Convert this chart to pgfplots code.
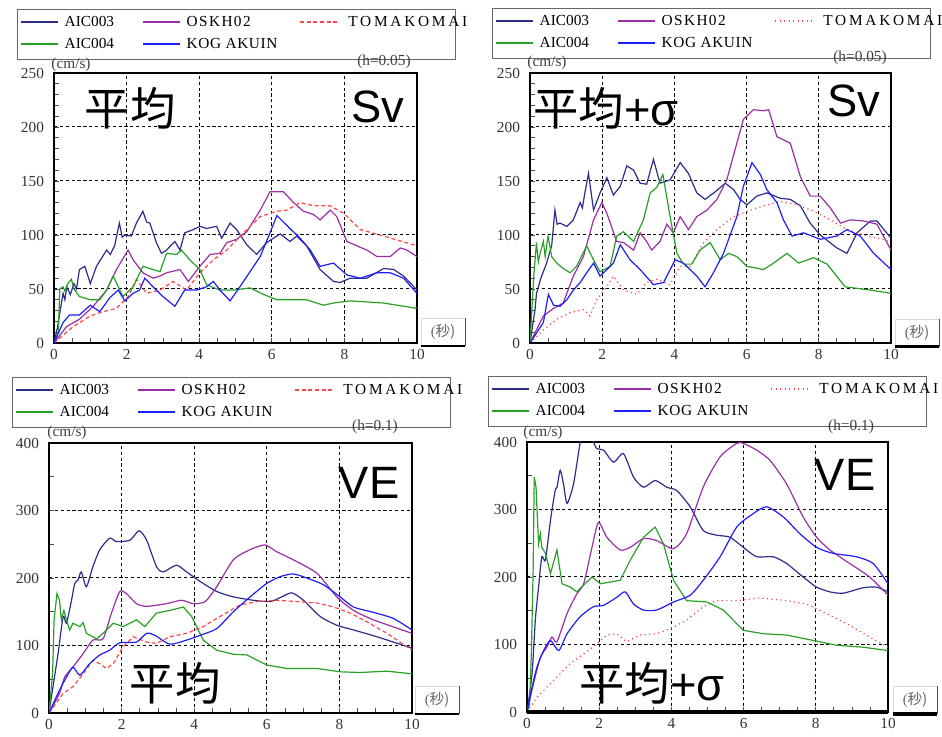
\documentclass[border=0pt]{standalone}
\usepackage{pgfplots}
\pgfplotsset{compat=1.18}
\usepackage{fontspec}
\setmainfont{Liberation Serif}
\newfontfamily\cjk{Noto Sans CJK JP}
\newfontfamily\sans{Liberation Sans}
\definecolor{cA}{RGB}{45,45,140}
\definecolor{cO}{RGB}{155,45,165}
\definecolor{cT}{RGB}{255,70,70}
\definecolor{cG}{RGB}{40,160,40}
\definecolor{cK}{RGB}{30,30,250}
\newcommand\WA{91.5pt}
\newcommand\WB{117.75pt}
\newcommand\WC{113pt}
% legend box text (sample lines are drawn separately)
\newcommand\legbox{%
  \begin{tabular}{@{}l@{}}
  \makebox[\WA][l]{\hspace{32.5pt}AIC003}%
  \makebox[\WB][l]{\hspace{32.5pt}{\addfontfeature{LetterSpace=9}OSKH02}}%
  \makebox[\WC][l]{\hspace{36pt}{\addfontfeature{LetterSpace=18}TOMAKOMAI}}\\[3.5pt]
  \makebox[\WA][l]{\hspace{32.5pt}AIC004}%
  \makebox[\WB][l]{\hspace{32.5pt}{\addfontfeature{LetterSpace=4}KOG AKUIN}}%
  \makebox[\WC][l]{}
  \end{tabular}}
% sample lines of a legend: #1 node name, #2 dash style of TOMAKOMAI
\newcommand\leglines[2]{%
  \begin{scope}[shift={(#1.north west)}]
  \draw[cA, line width=0.9pt] (4,-13) -- (41.3,-13);
  \draw[cO, line width=0.9pt] (126,-13) -- (163.3,-13);
  \draw[cT, line width=0.9pt, #2] (283,-13) -- (320.3,-13);
  \draw[cG, line width=0.9pt] (4,-35) -- (41.3,-35);
  \draw[cK, line width=0.9pt] (126,-35) -- (163.3,-35);
  \end{scope}}
\pgfplotsset{
  panel/.style={
    scale only axis, xmin=0, xmax=10, xtick={0,2,4,6,8,10}, minor x tick num=3,
    tick pos=left, tick align=inside, major tick length=4pt, minor tick length=4pt,
    grid=major, major grid style={black, line width=0.75pt, dash pattern=on 2.4pt off 2pt},
    axis line style={black, line width=1.1pt},
    every tick/.style={black!70, line width=0.6pt},
    ticklabel style={font=\fontsize{11.5}{12}\selectfont, text=black!80},
    /pgf/number format/assume math mode=true,
    yticklabel style={xshift=-4pt},
    xticklabel style={yshift=-1.5pt},
    no marks,
  },
  topp/.style={ymin=0, ymax=250, ytick={0,50,...,250}, minor y tick num=4},
  botp/.style={ymin=0, ymax=400, ytick={0,100,...,400}, minor y tick num=1},
  sA/.style={draw=cA, line width=0.9pt},
  sO/.style={draw=cO, line width=0.9pt},
  sG/.style={draw=cG, line width=0.9pt},
  sK/.style={draw=cK, line width=0.9pt},
  sTd/.style={draw=cT, line width=0.9pt, dash pattern=on 3pt off 2pt},
  sTo/.style={draw=cT, line width=0.9pt, dash pattern=on 0.9pt off 2.5pt},
}
\newcommand\secbox[3]{%
  \node[minimum width=33pt, minimum height=20pt, inner sep=0pt, draw=gray!30, line width=0.5pt,
        font=\fontsize{11}{12}\selectfont, text=black!60] (sb) at (#1,#2) {(\cjk 秒)};
  \draw[black, line width=#3] (sb.south west) -- (sb.south east);
  \draw[black!70, line width=0.8pt] (sb.south east) -- (sb.north east);
}
\begin{document}
\begin{tikzpicture}
\path[use as bounding box] (0,0) rectangle (706.5pt,552.75pt);

% ---------------- Panel 1 : Sv mean ----------------
\begin{axis}[panel, topp, name=p1, at={(40.5pt,295.5pt)}, anchor=south west, width=272.25pt, height=202.5pt]
\addplot[sA] coordinates {(0,0) (0.1,15) (0.16,28) (0.25,46) (0.3,40) (0.35,52) (0.45,45) (0.55,55) (0.62,50) (0.7,68) (0.85,71) (1.0,55) (1.17,71) (1.3,78) (1.45,86) (1.55,82) (1.67,90) (1.8,111) (1.88,98) (1.95,100) (2.13,99) (2.27,111) (2.45,122) (2.55,112) (2.64,111) (2.82,93) (2.96,83) (3.1,86) (3.33,94) (3.47,86) (3.6,102) (3.84,105) (4.02,108) (4.2,106) (4.48,108) (4.62,97) (4.85,111) (5.03,105) (5.31,91) (5.58,82) (5.86,93) (6.23,101) (6.5,94) (6.69,99) (6.96,90) (7.33,68) (7.7,57) (7.88,56) (8.16,60) (8.62,60) (9.08,69) (9.36,68) (9.63,62) (10,49)};
\addplot[sO] coordinates {(0,0) (0.34,15) (0.7,22) (1.08,34) (1.45,49) (1.72,68) (2.04,86) (2.18,77) (2.45,65) (2.73,60) (2.92,62) (3.1,65) (3.47,68) (3.7,57) (4.02,71) (4.3,82) (4.57,83) (4.76,93) (5.03,96) (5.31,103) (5.68,123) (5.95,140) (6.32,140) (6.6,130) (6.87,122) (7.15,119) (7.33,114) (7.61,123) (7.79,117) (8.07,94) (8.34,90) (8.62,86) (8.9,80) (9.26,80) (9.54,88) (9.72,86) (10,80)};
\addplot[sTd] coordinates {(0,0) (0.52,15) (1.0,25) (1.35,29) (1.72,32) (2.04,43) (2.27,59) (2.55,46) (2.92,49) (3.28,57) (3.65,49) (4.02,65) (4.39,77) (4.76,86) (5.22,102) (5.68,117) (6.14,122) (6.41,123) (6.78,130) (7.15,127) (7.61,127) (7.98,120) (8.44,105) (9.08,99) (10,90)};
\addplot[sG] coordinates {(0,0) (0.12,10) (0.16,50) (0.25,52) (0.3,48) (0.38,55) (0.48,59) (0.55,50) (0.7,43) (1.0,40) (1.26,40) (1.45,49) (1.63,62) (1.9,43) (2.18,52) (2.45,71) (2.73,68) (2.92,66) (3.1,83) (3.38,82) (3.51,86) (3.74,77) (4.02,68) (4.2,54) (4.57,49) (4.94,49) (5.4,51) (5.77,45) (6.14,40) (6.6,40) (6.96,40) (7.42,35) (7.7,37) (8.16,39) (9.08,37) (10,32)};
\addplot[sK] coordinates {(0,0) (0.25,19) (0.43,26) (0.7,26) (1.0,35) (1.26,29) (1.54,42) (1.77,49) (1.95,39) (2.18,46) (2.36,49) (2.5,60) (2.73,52) (3.0,43) (3.33,34) (3.6,49) (3.93,49) (4.2,52) (4.39,57) (4.57,49) (4.85,39) (5.12,52) (5.68,80) (5.95,102) (6.14,118) (6.5,106) (6.78,97) (7.06,86) (7.33,71) (7.7,74) (8.07,63) (8.44,60) (8.9,65) (9.26,65) (9.63,60) (10,46)};
\end{axis}

% ---------------- Panel 2 : Sv mean+sigma ----------------
\begin{axis}[panel, topp, name=p2, at={(397.5pt,295.5pt)}, anchor=south west, width=270.75pt, height=202.5pt]
\addplot[sA] coordinates {(0,0) (0.14,31) (0.18,46) (0.3,60) (0.46,74) (0.6,90) (0.69,123) (0.75,110) (0.83,111) (1.02,108) (1.2,114) (1.39,130) (1.45,125) (1.52,139) (1.62,157) (1.76,123) (1.94,139) (2.13,153) (2.31,137) (2.5,145) (2.68,164) (2.87,160) (3.05,148) (3.23,147) (3.42,170) (3.6,148) (3.88,151) (4.16,167) (4.39,157) (4.62,139) (4.85,133) (5.13,140) (5.41,148) (5.64,142) (5.82,133) (6.01,128) (6.28,136) (6.56,139) (6.93,134) (7.21,133) (7.49,127) (7.76,111) (8.04,100) (8.5,88) (8.78,83) (9.06,102) (9.43,113) (9.61,113) (10,97)};
\addplot[sO] coordinates {(0,0) (0.37,25) (0.65,32) (0.92,37) (1.2,62) (1.48,80) (1.76,114) (1.99,130) (2.13,120) (2.4,94) (2.59,93) (2.87,86) (3.05,102) (3.23,94) (3.37,86) (3.6,94) (3.79,110) (3.97,102) (4.16,117) (4.39,105) (4.62,117) (4.9,123) (5.18,133) (5.45,151) (5.73,185) (5.91,207) (6.19,216) (6.47,215) (6.61,216) (6.84,191) (7.21,185) (7.49,154) (7.76,136) (8.04,136) (8.32,125) (8.6,111) (8.87,114) (9.24,113) (9.61,110) (10,86)};
\addplot[sTo] coordinates {(0,0) (0.37,12) (0.74,22) (1.11,28) (1.48,31) (1.66,25) (1.85,40) (2.13,52) (2.31,62) (2.59,49) (2.96,45) (3.23,56) (3.51,59) (3.88,54) (4.16,71) (4.44,71) (4.81,93) (5.18,105) (5.64,117) (6.1,123) (6.47,127) (6.93,131) (7.39,128) (7.86,122) (8.32,114) (8.78,105) (9.24,100) (10,94)};
\addplot[sG] coordinates {(0,0) (0.05,30) (0.11,65) (0.18,93) (0.23,75) (0.28,83) (0.37,94) (0.42,80) (0.46,90) (0.5,99) (0.6,80) (0.74,74) (0.92,69) (1.11,65) (1.29,71) (1.57,90) (1.76,77) (1.94,66) (2.22,71) (2.4,99) (2.59,103) (2.87,94) (3.14,114) (3.33,139) (3.51,144) (3.68,156) (3.88,117) (4.07,83) (4.25,73) (4.48,73) (4.71,86) (4.99,93) (5.27,77) (5.5,83) (5.73,80) (6.01,71) (6.47,68) (6.75,74) (7.12,83) (7.44,74) (7.86,79) (8.23,73) (8.73,52) (9.43,49) (10,46)};
\addplot[sK] coordinates {(0,0) (0.37,19) (0.51,45) (0.65,35) (0.83,34) (1.02,40) (1.2,49) (1.39,56) (1.57,65) (1.76,74) (1.94,62) (2.13,68) (2.31,74) (2.5,91) (2.77,77) (3.05,68) (3.42,54) (3.7,56) (4.02,77) (4.25,74) (4.62,62) (4.85,52) (5.08,65) (5.36,83) (5.73,117) (5.91,145) (6.15,167) (6.38,156) (6.56,142) (6.84,130) (7.02,114) (7.26,99) (7.58,102) (8.04,96) (8.5,99) (8.78,105) (9.15,99) (9.52,83) (10,68)};
\end{axis}
\draw[black, line width=2.2pt] (p2.south west) -- (p2.south east);

% ---------------- Panel 3 : VE mean ----------------
\begin{axis}[panel, botp, name=p3, at={(36.75pt,18pt)}, anchor=south west, width=272.25pt, height=202.5pt]
\addplot[sA, smooth, tension=0.4] coordinates {(0,0) (0.11,39) (0.25,88) (0.39,143) (0.48,133) (0.62,167) (0.71,192) (0.8,197) (0.89,209) (1.03,187) (1.21,217) (1.4,242) (1.67,259) (1.86,254) (2.23,256) (2.48,270) (2.69,256) (2.96,217) (3.15,209) (3.51,219) (3.79,209) (4.16,195) (4.62,180) (5.08,172) (5.63,167) (6.09,165) (6.41,172) (6.69,178) (7.01,167) (7.47,143) (7.93,130) (8.39,123) (9.03,113) (10,96)};
\addplot[sO, smooth, tension=0.4] coordinates {(0,0) (0.29,29) (0.43,53) (0.66,68) (0.94,88) (1.21,108) (1.49,110) (1.72,148) (1.95,180) (2.13,177) (2.41,162) (2.69,158) (3.24,162) (3.65,167) (3.97,162) (4.3,165) (4.62,187) (5.08,227) (5.54,242) (5.95,249) (6.27,239) (6.73,227) (7.38,207) (7.93,172) (8.39,152) (8.94,138) (10,118)};
\addplot[sTd] coordinates {(0,0) (0.39,29) (0.66,39) (0.94,58) (1.21,78) (1.4,73) (1.58,66) (1.77,73) (2.04,98) (2.32,113) (2.69,105) (2.96,103) (3.33,113) (3.79,118) (4.25,128) (4.71,143) (5.26,160) (5.72,165) (6.27,167) (6.83,165) (7.38,163) (7.84,157) (8.3,148) (8.76,135) (9.31,118) (10,93)};
\addplot[sG] coordinates {(0,0) (0.1,60) (0.14,138) (0.22,177) (0.29,167) (0.34,138) (0.41,152) (0.48,138) (0.57,123) (0.66,133) (0.85,128) (0.94,134) (1.03,118) (1.31,110) (1.49,118) (1.77,133) (2.04,128) (2.41,138) (2.64,128) (2.96,148) (3.33,152) (3.7,157) (3.93,143) (4.25,108) (4.62,93) (5.08,87) (5.45,86) (6.0,71) (6.55,66) (7.38,66) (8.02,61) (8.57,60) (9.31,62) (10,58)};
\addplot[sK, smooth, tension=0.4] coordinates {(0,0) (0.29,34) (0.48,53) (0.66,68) (0.85,56) (1.12,73) (1.4,86) (1.67,93) (1.95,104) (2.41,105) (2.69,118) (2.92,115) (3.33,102) (3.79,108) (4.16,115) (4.62,125) (5.08,150) (5.54,172) (6.0,192) (6.37,202) (6.73,206) (7.1,200) (7.56,190) (8.02,172) (8.39,157) (8.94,149) (9.49,140) (10,123)};
\end{axis}

% ---------------- Panel 4 : VE mean+sigma ----------------
\begin{axis}[panel, botp, name=p4, at={(395.25pt,18.75pt)}, anchor=south west, width=270.75pt, height=202.5pt]
\addplot[sA, smooth, tension=0.4] coordinates {(0,0) (0.14,57) (0.23,136) (0.32,185) (0.41,230) (0.51,225) (0.65,284) (0.78,328) (0.83,333) (0.92,358) (1.01,338) (1.11,309) (1.29,338) (1.47,398) (1.6,425) (1.75,420) (1.84,400) (1.94,390) (2.12,388) (2.4,370) (2.67,383) (2.95,348) (3.23,333) (3.55,343) (3.87,333) (4.15,328) (4.52,304) (4.88,269) (5.25,262) (5.62,259) (5.99,244) (6.36,230) (6.82,230) (7.19,220) (7.65,200) (8.02,185) (8.39,178) (8.76,176) (9.31,184) (9.68,185) (10,178)};
\addplot[sO, smooth, tension=0.4] coordinates {(0,0) (0.18,42) (0.37,81) (0.55,96) (0.69,111) (0.83,104) (1.11,146) (1.38,175) (1.57,190) (1.8,244) (1.98,281) (2.21,259) (2.58,240) (2.86,244) (3.23,257) (3.59,254) (4.06,242) (4.42,264) (4.88,333) (5.35,378) (5.81,398) (5.99,398) (6.36,388) (6.73,373) (7.19,338) (7.65,289) (8.02,259) (8.39,240) (8.94,220) (9.49,200) (10,173)};
\addplot[sTo] coordinates {(0,0) (0.28,22) (0.74,47) (1.2,72) (1.57,86) (1.94,101) (2.21,114) (2.49,116) (2.76,104) (3.13,114) (3.59,116) (3.96,123) (4.42,136) (4.88,156) (5.25,165) (5.81,165) (6.45,169) (7.19,165) (7.74,160) (8.29,146) (8.85,131) (9.49,111) (10,96)};
\addplot[sG] coordinates {(0,0) (0.07,10) (0.12,86) (0.17,210) (0.2,348) (0.25,333) (0.32,249) (0.37,264) (0.41,244) (0.51,235) (0.65,205) (0.83,240) (0.97,190) (1.2,185) (1.38,178) (1.61,190) (1.8,200) (2.03,190) (2.58,195) (2.86,225) (3.23,259) (3.55,274) (3.78,249) (4.06,195) (4.42,165) (4.98,163) (5.44,151) (5.99,121) (6.54,116) (7.19,114) (7.93,106) (8.57,99) (9.31,96) (10,91)};
\addplot[sK, smooth, tension=0.4] coordinates {(0,0) (0.14,37) (0.28,67) (0.46,91) (0.65,106) (0.88,91) (1.11,116) (1.47,141) (1.84,156) (2.12,158) (2.49,170) (2.72,178) (2.95,160) (3.23,151) (3.59,151) (4.06,163) (4.52,173) (4.88,195) (5.35,230) (5.81,274) (6.27,294) (6.64,304) (7.1,289) (7.56,264) (8.02,244) (8.48,235) (9.12,230) (9.59,220) (10,190)};
\end{axis}
\draw[black, line width=3.5pt] (p4.south west) -- (p4.south east);

% ---------------- legends and texts ----------------
\begin{scope}[x=0.75pt, y=0.75pt]
\tikzset{small/.style={font=\fontsize{11.5}{12}\selectfont, text=black!75, inner sep=0pt},
         big/.style={font=\fontsize{34}{36}\selectfont, inner sep=0pt},
         leg/.style={anchor=north west, draw=black!60, line width=0.6pt, fill=white,
           inner xsep=3pt, inner ysep=4pt, font=\fontsize{11.5}{13}\selectfont}}
\node[leg] (L1) at (17,728) {\legbox};
\node[leg] (L2) at (492,729) {\legbox};
\node[leg] (L3) at (12,360) {\legbox};
\node[leg] (L4) at (488,361) {\legbox};
\leglines{L1}{dash pattern=on 3pt off 2pt}
\leglines{L2}{dash pattern=on 0.9pt off 2.5pt}
\leglines{L3}{dash pattern=on 3pt off 2pt}
\leglines{L4}{dash pattern=on 0.9pt off 2.5pt}
% panel 1
\node[small] at (71,672) {(cm/s)};
\node[small] at (384,675) {(h=0.05)};
\node[big] at (130,629) {\cjk 平均};
\node[big] at (378,630) {\sans Sv};
\secbox{443}{405}{1.5pt}
% panel 2
\node[small] at (547,674) {(cm/s)};
\node[small] at (860,679) {(h=0.05)};
\node[big] at (606,629) {\cjk 平均\sans +σ};
\node[big] at (854,636) {\sans Sv};
\secbox{917}{404}{2.5pt}
% panel 3
\node[small] at (67,304) {(cm/s)};
\node[small] at (375,310) {(h=0.1)};
\node[big] at (369,254) {\sans VE};
\node[big] at (175,54) {\cjk 平均};
\secbox{437}{37}{1.5pt}
% panel 4
\node[small] at (543,304) {(cm/s)};
\node[small] at (851,310) {(h=0.1)};
\node[big] at (845,262) {\sans VE};
\node[big] at (652,54) {\cjk 平均\sans +σ};
\secbox{915}{37}{3pt}
\end{scope}
\end{tikzpicture}
\end{document}
